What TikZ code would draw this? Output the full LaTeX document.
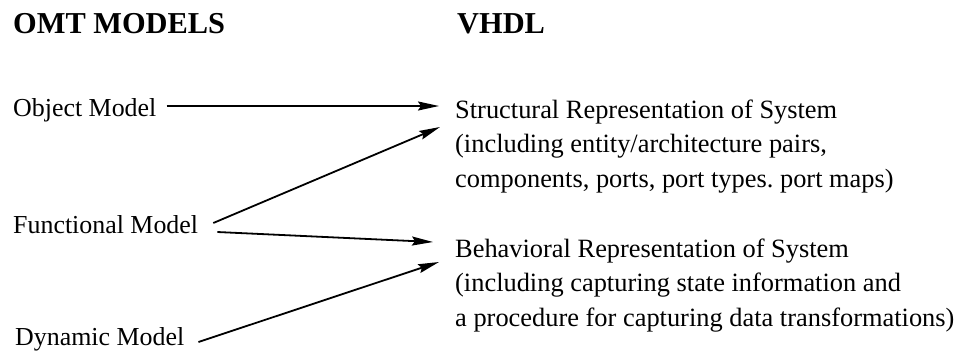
\documentclass[tikz,border=0pt]{standalone}
\usepackage{fontspec}
\setmainfont{Liberation Serif}
\usetikzlibrary{arrows.meta}
\frenchspacing
\begin{document}
\begin{tikzpicture}[x=1bp,y=-1bp,
  head/.style={font=\fontsize{30.5}{36}\selectfont\bfseries, inner sep=0pt, anchor=base west},
  model/.style={font=\fontsize{26}{32}\selectfont, inner sep=0pt, anchor=base west},
  repr/.style={font=\fontsize{26.5}{34.5}\selectfont, inner sep=0pt, anchor=base west, align=left},
  link/.style={line width=1.8bp, -{Stealth[length=21bp, width=9bp, inset=3bp]}}]
\useasboundingbox (0,0) rectangle (958,354);

% column headings
\node[head] (hleft)  at (13,33)  {OMT MODELS};
\node[head] (hright) at (457,33) {VHDL};

% OMT models
\node[model] (obj)  at (13,116) {Object Model};
\node[model] (func) at (13,233) {Functional Model};
\node[model] (dyn)  at (15,345) {Dynamic Model};

% VHDL representations (base anchor sits on the last line)
\node[repr] (struct) at (455,187)
  {Structural Representation of System\\
   (including entity/architecture pairs,\\
   components, ports, port types. port maps)};
\node[repr] (behav) at (455,326)
  {Behavioral Representation of System\\
   (including capturing state information and\\
   a procedure for capturing data transformations)};

% mappings
\draw[link] ([shift={(10,-10)}]obj.base east)  -- ([shift={(-16,-81)}]struct.base west);
\draw[link] ([shift={(15,-10)}]func.base east) -- ([shift={(-15,-60)}]struct.base west);
\draw[link] ([shift={(19,-1)}]func.base east)  -- ([shift={(-22,-84)}]behav.base west);
\draw[link] ([shift={(14,-3)}]dyn.base east)   -- ([shift={(-16,-64)}]behav.base west);
\end{tikzpicture}
\end{document}
